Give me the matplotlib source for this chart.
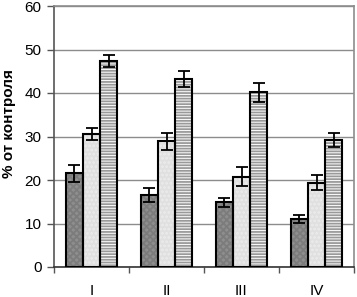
import numpy as np
import matplotlib.pyplot as plt

plt.rcParams['font.family'] = ['Liberation Sans', 'DejaVu Sans']
plt.rcParams['hatch.linewidth'] = 1.3

groups = ["I", "II", "III", "IV"]
dark_vals = [21.5, 16.5, 14.9, 11.1]
dark_err = [2.0, 1.6, 1.0, 0.9]
light_vals = [30.6, 28.9, 20.8, 19.4]
light_err = [1.3, 2.0, 2.1, 1.7]
striped_vals = [47.4, 43.2, 40.2, 29.1]
striped_err = [1.4, 1.9, 2.2, 1.6]

fig = plt.figure(figsize=(3.57, 2.97), dpi=100)
ax = fig.add_axes([54 / 357, 30 / 297, 300 / 357, 261 / 297])

x = np.arange(len(groups))
w = 0.227
series = [
    (dark_vals, dark_err, "#8e8e8e", "#7c7c7c", "xxxxx", -w),
    (light_vals, light_err, "#e0e0e0", "#ececec", "....", 0.0),
    (striped_vals, striped_err, "white", "#9a9a9a", "------", w),
]
for vals, err, face, hcol, hatch, off in series:
    ax.bar(x + off, vals, w, color=face, edgecolor=hcol, hatch=hatch,
           linewidth=0, zorder=2)
    ax.bar(x + off, vals, w, facecolor="none", edgecolor="black",
           linewidth=1.5, zorder=3)
    ax.errorbar(x + off, vals, yerr=err, fmt="none", ecolor="black",
                elinewidth=1.3, capsize=4, capthick=1.3, zorder=4)

ax.set_xlim(-0.5, 3.5)
ax.set_ylim(0, 60)
ax.set_yticks(range(0, 61, 10))
ax.yaxis.grid(True, color="#8c8c8c", linewidth=1.0, zorder=0)
ax.set_axisbelow(True)

ax.set_xticks(x)
ax.set_xticklabels(groups, fontsize=11)
ax.set_xticks([-0.5, 0.5, 1.5, 2.5, 3.5], minor=True)
ax.tick_params(axis="x", which="major", length=0, pad=12)
ax.tick_params(axis="x", which="minor", length=4, width=1, color="#555555",
               direction="out")
ax.tick_params(axis="y", length=5, width=1, color="#555555", labelsize=11,
               pad=4)

for side in ["top", "right"]:
    ax.spines[side].set_color("#8c8c8c")
    ax.spines[side].set_linewidth(1.2)
ax.spines["left"].set_color("#555555")
ax.spines["bottom"].set_color("#333333")
ax.spines["left"].set_linewidth(1.2)
ax.spines["bottom"].set_linewidth(1.2)

ax.set_ylabel("% от контроля", fontsize=11, fontweight="bold")
ax.yaxis.set_label_coords(-38 / 300, 0.55)

fig.savefig("out.png", dpi=100)
